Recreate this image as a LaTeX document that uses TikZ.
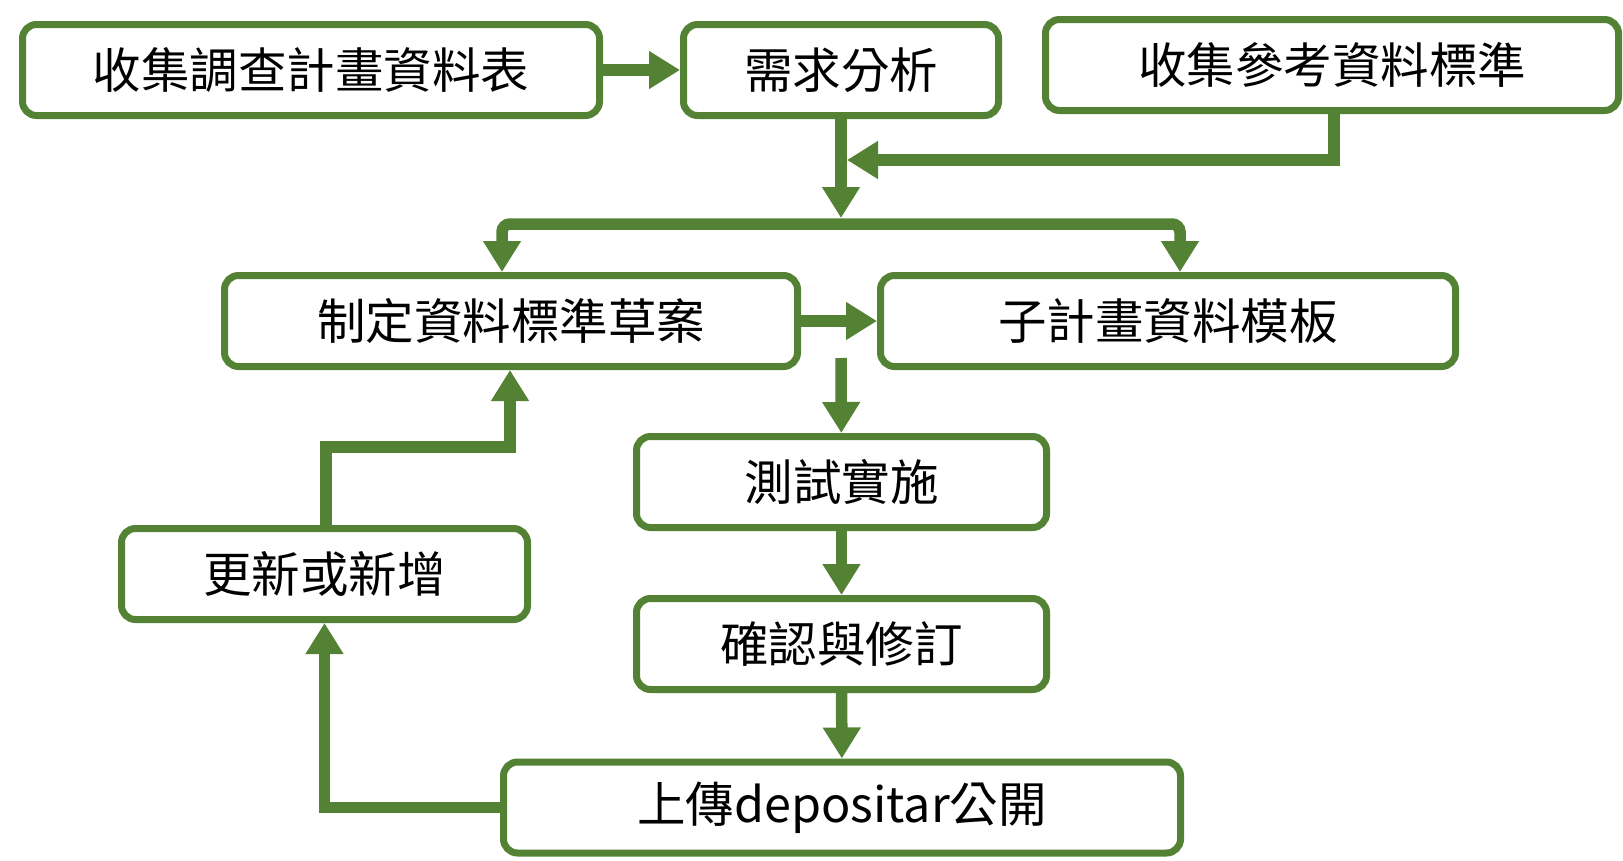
\documentclass[tikz,border=0pt]{standalone}
\usepackage{fontspec}
\newfontfamily\cjk{Noto Sans CJK TC}
\usetikzlibrary{arrows.meta}
\definecolor{leaf}{RGB}{84,130,53}
\tikzset{
  box/.style={draw=leaf,line width=7pt,rounded corners=14pt,fill=white,inner sep=0pt,
    minimum height=91pt,font=\cjk\fontsize{48.5}{52}\selectfont},
  flow/.style={draw=leaf,line width=11.5pt,-{Triangle[length=31pt,width=36pt]}}
}
\begin{document}
\begin{tikzpicture}[x=1pt,y=-1pt]
            \useasboundingbox (0,0) rectangle (1623,860);
            \node[box,minimum width=577pt] (plan) at (311,70) {收集調查計畫資料表};
            \node[box,minimum width=315pt] (need) at (841,70) {需求分析};
            \node[box,minimum width=573pt] (ref) at (1332,65) {收集參考資料標準};
            \node[box,minimum width=573pt] (draft) at (511,321) {制定資料標準草案};
            \node[box,minimum width=575pt] (tmpl) at (1168,321) {子計畫資料模板};
            \node[box,minimum width=410pt] (test) at (841.5,482) {測試實施};
            \node[box,minimum width=410pt] (check) at (841.5,644) {確認與修訂};
            \node[box,minimum width=677pt] (upload) at (842,807.5) {上傳depositar公開};
            \node[box,minimum width=406pt] (update) at (324.5,574) {更新或新增};
            \coordinate (join) at (841,218);
            \coordinate (merge) at (847,160);
            \coordinate (split) at (841,224);
            \coordinate (stub) at (841,358);
            \coordinate (bend) at (510,447);
            \draw[flow] (plan) -- (need);
            \draw[flow] (need) -- (join);
            \draw[flow] (ref.south -| 1334,0) |- (merge);
            \draw[flow,rounded corners=8pt] (split) -| ([xshift=-9pt]draft.north);
            \draw[flow,rounded corners=8pt] (split) -| ([xshift=12pt]tmpl.north);
            \draw[flow] (draft) -- (tmpl);
            \draw[flow] (stub) -- (test);
            \draw[flow] (test) -- (check);
            \draw[flow] (check) -- (upload);
            \draw[flow] (upload) -| (update);
            \draw[flow] (update.north -| 326,0) |- (bend) -- (bend |- draft.south);
        \end{tikzpicture}
\end{document}
